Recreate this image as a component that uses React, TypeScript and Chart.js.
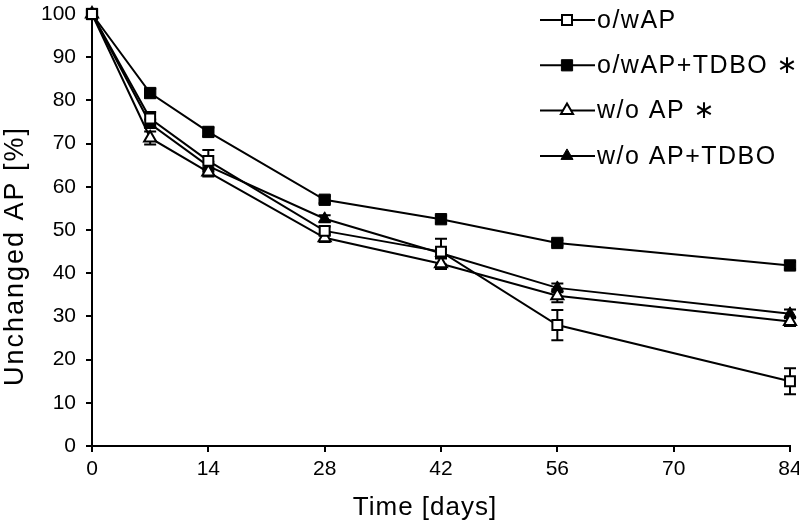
import React, { useEffect, useRef } from 'react';
import { Chart, registerables } from 'chart.js';

Chart.register(...registerables);

const days = [0, 7, 14, 28, 42, 56, 84];
const xTickValues = [0, 14, 28, 42, 56, 70, 84];
const seriesNames = ['o/wAP', 'o/wAP+TDBO \u2217', 'w/o AP \u2217', 'w/o AP+TDBO'];
const xTitle = 'Time [days]';
const yTitle = 'Unchanged AP [%]';

const owAP = [100, 75.8, 66, 49.8, 45, 28, 15];
const owAPErr = [0, 1.5, 2.5, 1, 3, 3.5, 3];
const owAPTDBO = [100, 81.7, 72.7, 57, 52.5, 47, 41.8];
const owAPTDBOErr = [0, 1, 1, 0.8, 0.8, 0.6, 0.8];
const woAP = [100, 71.3, 63.4, 48.2, 42.2, 34.8, 28.8];
const woAPErr = [0, 1.5, 1, 1, 1.2, 1.5, 1];
const woAPTDBO = [100, 74.6, 64.8, 52.6, 44.6, 36.6, 30.6];
const woAPTDBOErr = [0, 1, 1, 0.8, 1, 1, 1];

const FONT = "'Liberation Sans', Arial, 'DejaVu Sans', sans-serif";

type Marker = { style: 'rect' | 'triangle'; filled: boolean };
const markers: Marker[] = [
  { style: 'rect', filled: false },
  { style: 'rect', filled: true },
  { style: 'triangle', filled: false },
  { style: 'triangle', filled: true },
];

function drawMarker(ctx: CanvasRenderingContext2D, m: Marker, x: number, y: number) {
  ctx.save();
  ctx.fillStyle = m.filled ? '#000' : '#fff';
  ctx.strokeStyle = '#000';
  ctx.lineWidth = m.filled ? 1 : 2;
  ctx.beginPath();
  if (m.style === 'rect') {
    const s = m.filled ? 5.6 : 5;
    ctx.rect(x - s, y - s, 2 * s, 2 * s);
  } else {
    const r = 7;
    ctx.moveTo(x, y - r);
    ctx.lineTo(x + r * Math.sin((2 * Math.PI) / 3), y + r * 0.5);
    ctx.lineTo(x - r * Math.sin((2 * Math.PI) / 3), y + r * 0.5);
    ctx.closePath();
  }
  ctx.fill();
  ctx.stroke();
  ctx.restore();
}

export default function App() {
  const ref = useRef<HTMLCanvasElement | null>(null);

  useEffect(() => {
    if (!ref.current) return;
    const values = [owAP, owAPTDBO, woAP, woAPTDBO];
    const errors = [owAPErr, owAPTDBOErr, woAPErr, woAPTDBOErr];

    const errorBars = {
      id: 'errorBars',
      beforeDatasetsDraw(chart: any) {
        const ctx = chart.ctx;
        const ys = chart.scales.y;
        ctx.save();
        ctx.strokeStyle = '#000';
        ctx.lineWidth = 2;
        values.forEach((vals, i) => {
          const meta = chart.getDatasetMeta(i);
          vals.forEach((v, j) => {
            const e = errors[i][j];
            if (!e) return;
            const x = meta.data[j].x;
            const t = ys.getPixelForValue(v + e);
            const b = ys.getPixelForValue(v - e);
            ctx.beginPath();
            ctx.moveTo(x, t);
            ctx.lineTo(x, b);
            ctx.moveTo(x - 6, t);
            ctx.lineTo(x + 6, t);
            ctx.moveTo(x - 6, b);
            ctx.lineTo(x + 6, b);
            ctx.stroke();
          });
        });
        ctx.restore();
      },
    };

    const legendAndTitles = {
      id: 'customLegend',
      afterDraw(chart: any) {
        const ctx = chart.ctx;
        ctx.save();
        ctx.fillStyle = '#000';
        ctx.textBaseline = 'middle';
        // legend
        ctx.font = `25px ${FONT}`;
        (ctx as any).letterSpacing = '1.5px';
        seriesNames.forEach((name, i) => {
          const y = 20 + i * 45.3;
          ctx.strokeStyle = '#000';
          ctx.lineWidth = 2;
          ctx.beginPath();
          ctx.moveTo(540, y);
          ctx.lineTo(595, y);
          ctx.stroke();
          drawMarker(ctx, markers[i], 567, y);
          ctx.fillText(name, 597, y + 1);
        });
        // x title
        ctx.textAlign = 'center';
        ctx.font = `26px ${FONT}`;
        (ctx as any).letterSpacing = '1px';
        ctx.fillText(xTitle, 425, 508);
        // y title
        ctx.font = `27px ${FONT}`;
        (ctx as any).letterSpacing = '2px';
        ctx.translate(16, 256);
        ctx.rotate(-Math.PI / 2);
        ctx.fillText(yTitle, 0, 0);
        ctx.restore();
      },
    };

    const chart = new Chart(ref.current, {
      type: 'line',
      data: {
        datasets: values.map((vals, i) => ({
          label: seriesNames[i],
          data: vals.map((v, j) => ({ x: days[j], y: v })),
          borderColor: '#000',
          borderWidth: 2,
          backgroundColor: markers[i].filled ? '#000' : '#fff',
          pointStyle: markers[i].style,
          pointRadius: markers[i].style === 'rect' ? (markers[i].filled ? 8 : 7) : 7,
          pointBorderWidth: markers[i].filled ? 1 : 2,
          pointBorderColor: '#000',
          pointBackgroundColor: markers[i].filled ? '#000' : '#fff',
          tension: 0,
          fill: false,
          clip: false as any,
        })),
      },
      options: {
        responsive: false,
        animation: false,
        layout: { padding: { top: 14, right: 8, left: 0, bottom: 0 } },
        plugins: {
          legend: { display: false },
          tooltip: { enabled: false },
        },
        scales: {
          x: {
            type: 'linear',
            min: 0,
            max: 84,
            afterBuildTicks(scale: any) {
              scale.ticks = xTickValues.map((v) => ({ value: v }));
            },
            afterFit(scale: any) {
              scale.height = 81;
              scale.paddingLeft = 0;
              scale.paddingRight = 0;
            },
            ticks: {
              color: '#000',
              font: { family: FONT, size: 21 },
              padding: 5,
              maxRotation: 0,
              autoSkip: false,
            },
            grid: {
              drawOnChartArea: false,
              drawTicks: true,
              tickLength: 6,
              color: '#000',
              lineWidth: 2,
            },
            border: { display: true, color: '#000', width: 2 },
          },
          y: {
            min: 0,
            max: 100,
            ticks: {
              stepSize: 10,
              color: '#000',
              font: { family: FONT, size: 21 },
              padding: 10,
            },
            afterFit(scale: any) {
              scale.width = 92;
              scale.paddingTop = 0;
              scale.paddingBottom = 0;
            },
            grid: {
              drawOnChartArea: false,
              drawTicks: true,
              tickLength: 6,
              color: '#000',
              lineWidth: 2,
            },
            border: { display: true, color: '#000', width: 2 },
          },
        },
      },
      plugins: [errorBars, legendAndTitles],
    });
    return () => chart.destroy();
  }, []);

  return (
    <div style={{ position: 'absolute', left: 0, top: 0, width: 799, height: 527, background: '#fff' }}>
      <canvas ref={ref} width={799} height={527} />
    </div>
  );
}
